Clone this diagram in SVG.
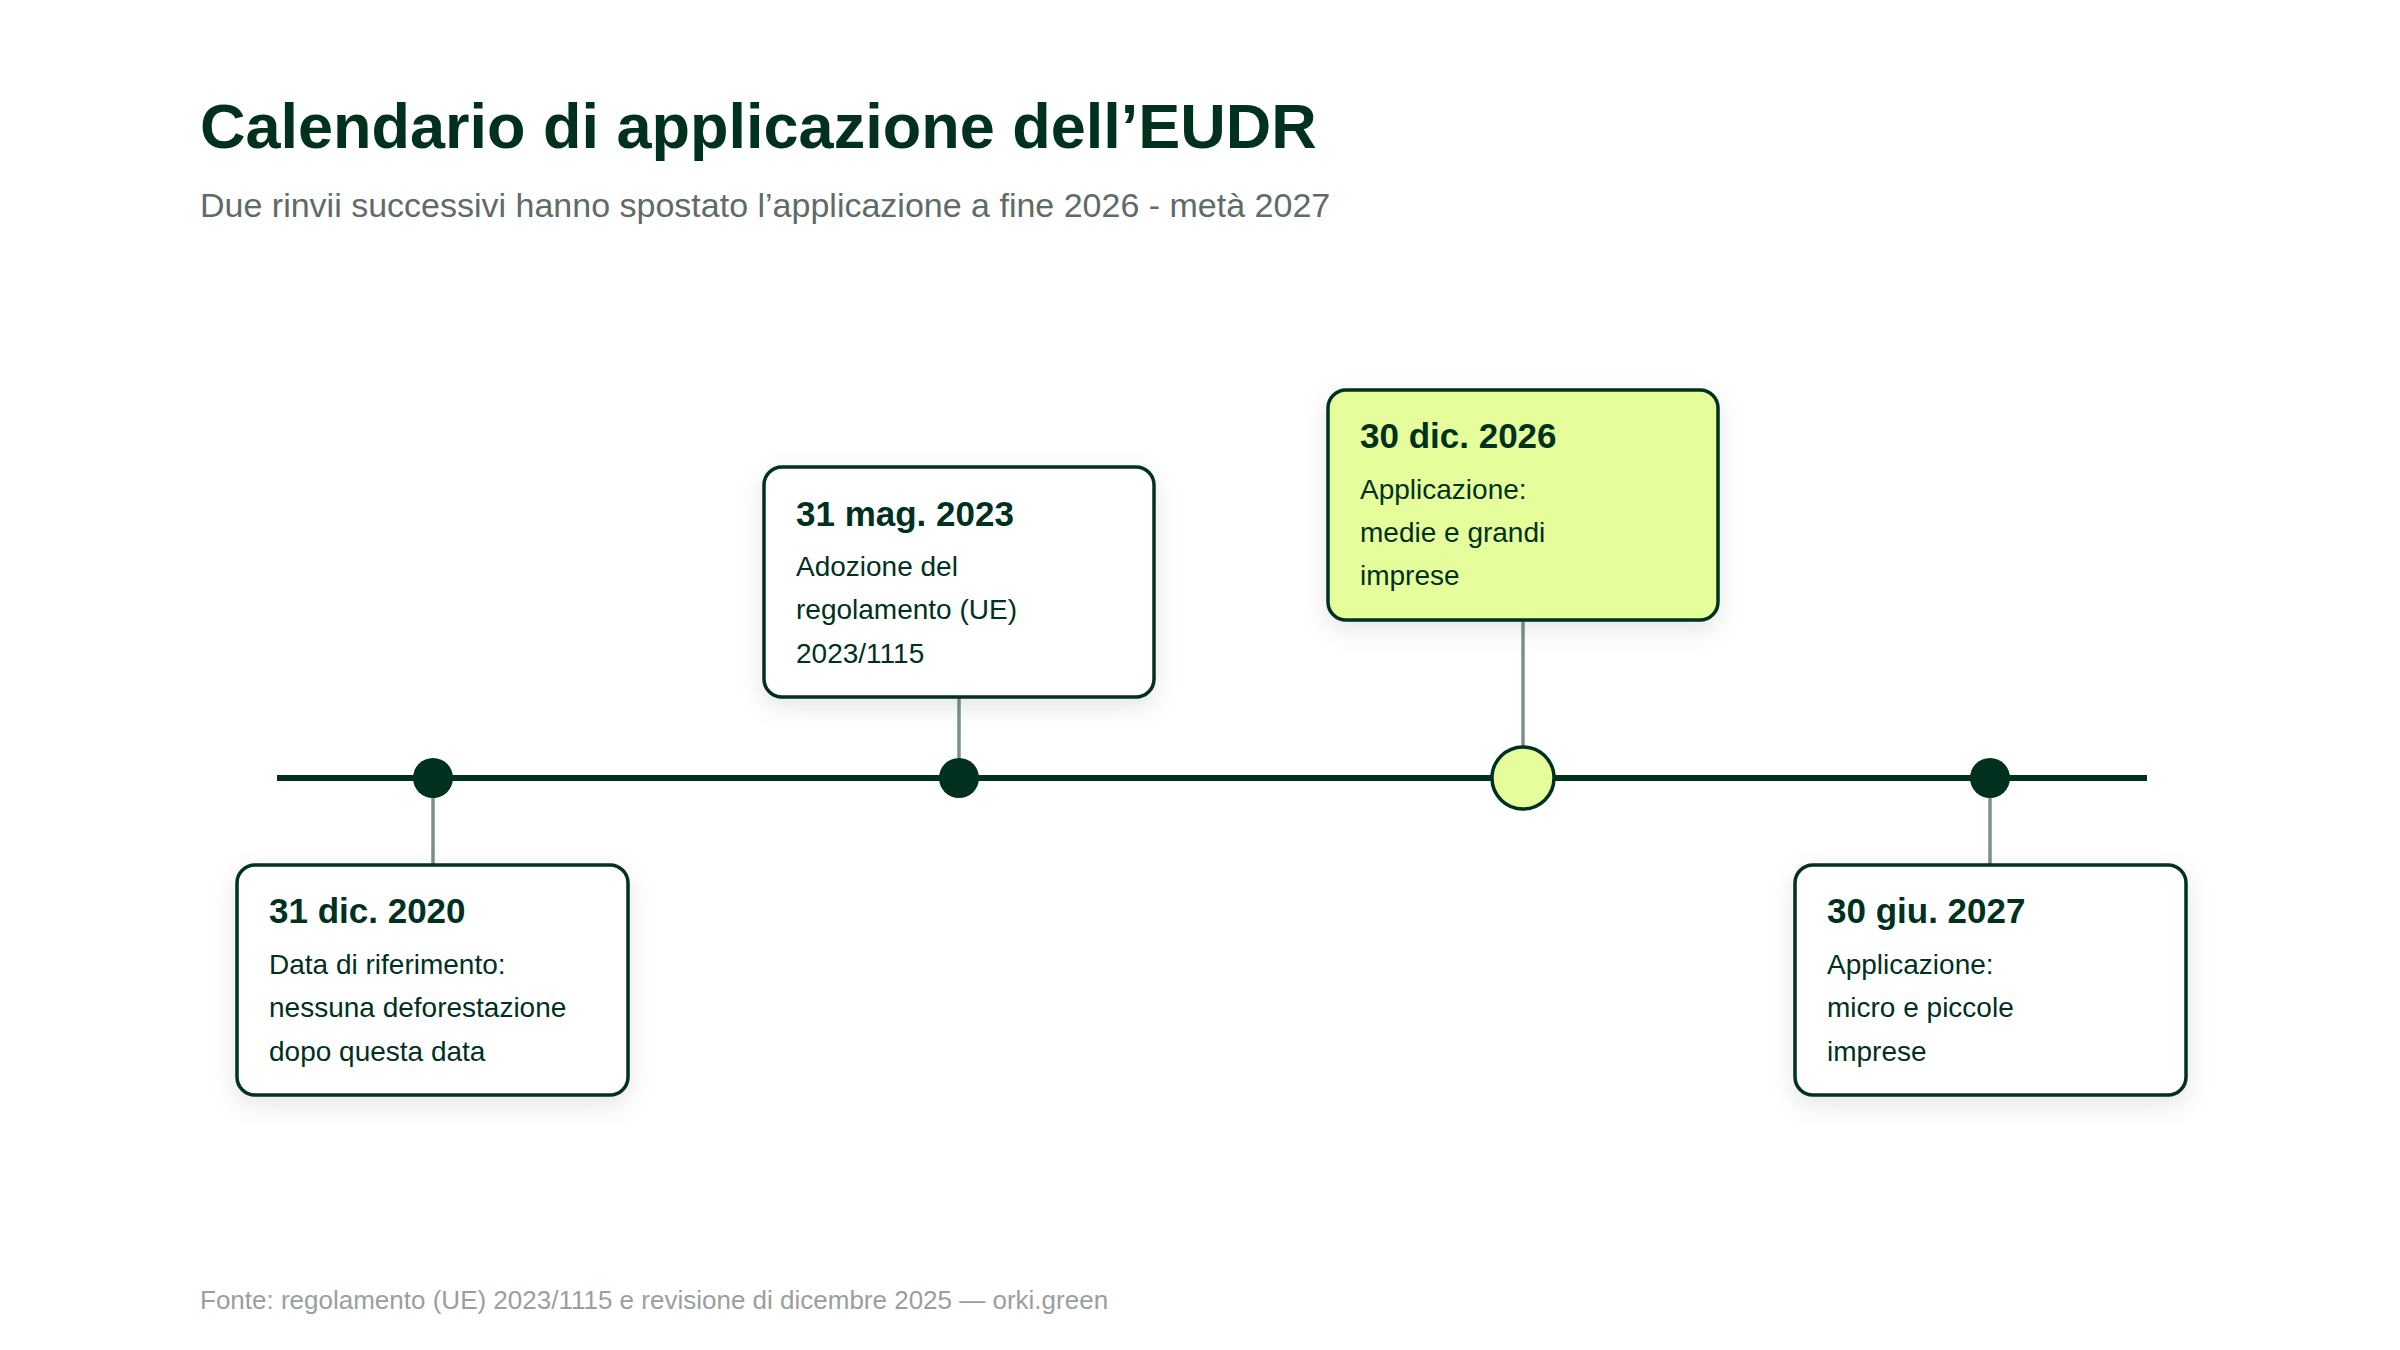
<svg xmlns="http://www.w3.org/2000/svg" width="2400" height="1350" viewBox="0 0 2400 1350">
<defs>
<filter id="sh" x="-20%" y="-20%" width="140%" height="150%"><feDropShadow dx="0" dy="8" stdDeviation="12" flood-color="#000" flood-opacity="0.10"/></filter>
</defs>
<style>
text{font-family:"Liberation Sans",Arial,sans-serif}
.box{fill:#fff;stroke:#00311f;stroke-width:3.5;filter:url(#sh)}
.hl{fill:#e6fd9b}
.date{font-size:35px;font-weight:bold;fill:#00311f}
.body{font-size:28px;fill:#00311f}
.stem{stroke:#7b918a;stroke-width:3.5}
.dot{fill:#00311f}
</style>
<rect width="2400" height="1350" fill="#fff"/>
<text x="200" y="148" font-size="63" font-weight="bold" fill="#00311f">Calendario di applicazione dell’EUDR</text>
<text x="200" y="217" font-size="34" fill="#5f6b67">Due rinvii successivi hanno spostato l’applicazione a fine 2026 - metà 2027</text>
<g id="connectors">
<line x1="277" y1="778" x2="2147" y2="778" stroke="#00311f" stroke-width="6"/>
<line class="stem" x1="433" y1="778" x2="433" y2="864"/>
<line class="stem" x1="959" y1="697" x2="959" y2="778"/>
<line class="stem" x1="1523" y1="620" x2="1523" y2="748"/>
<line class="stem" x1="1990" y1="778" x2="1990" y2="864"/>
</g>
<g id="m2020">
<circle class="dot" cx="433" cy="778" r="20"/>
<rect class="box" x="237" y="865" width="391" height="230" rx="18"/>
<text class="date" x="269" y="923">31 dic. 2020</text>
<text class="body" x="269" y="974">Data di riferimento:</text>
<text class="body" x="269" y="1017">nessuna deforestazione</text>
<text class="body" x="269" y="1061">dopo questa data</text>
</g>
<g id="m2023">
<circle class="dot" cx="959" cy="778" r="20"/>
<rect class="box" x="764" y="467" width="390" height="230" rx="18"/>
<text class="date" x="796" y="526">31 mag. 2023</text>
<text class="body" x="796" y="576">Adozione del</text>
<text class="body" x="796" y="619">regolamento (UE)</text>
<text class="body" x="796" y="663">2023/1115</text>
</g>
<g id="m2026">
<circle cx="1523" cy="778" r="31" fill="#e6fd9b" stroke="#00311f" stroke-width="3.5"/>
<rect class="box hl" x="1328" y="390" width="390" height="230" rx="18"/>
<text class="date" x="1360" y="448">30 dic. 2026</text>
<text class="body" x="1360" y="499">Applicazione:</text>
<text class="body" x="1360" y="542">medie e grandi</text>
<text class="body" x="1360" y="585">imprese</text>
</g>
<g id="m2027">
<circle class="dot" cx="1990" cy="778" r="20"/>
<rect class="box" x="1795" y="865" width="391" height="230" rx="18"/>
<text class="date" x="1827" y="923">30 giu. 2027</text>
<text class="body" x="1827" y="974">Applicazione:</text>
<text class="body" x="1827" y="1017">micro e piccole</text>
<text class="body" x="1827" y="1061">imprese</text>
</g>
<text x="200" y="1309" font-size="26" fill="#9a9f9d">Fonte: regolamento (UE) 2023/1115 e revisione di dicembre 2025 — orki.green</text>
</svg>
